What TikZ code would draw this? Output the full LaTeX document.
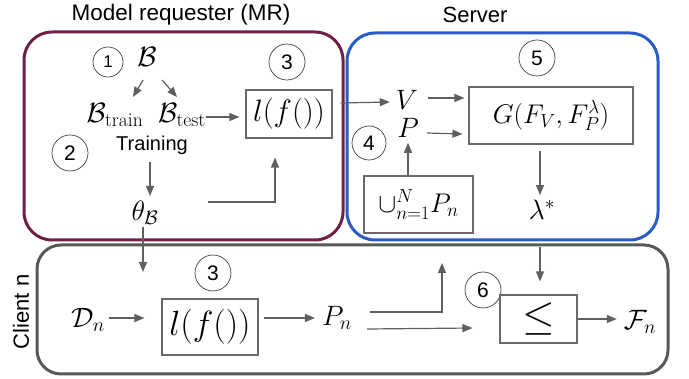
\RequirePackage{fix-cm}
\documentclass[tikz,border=0pt]{standalone}
\usepackage{fontspec}
\newfontfamily\arial{Liberation Sans}
\usetikzlibrary{arrows.meta,calc}
\definecolor{mrcol}{RGB}{110,32,70}
\definecolor{srvcol}{RGB}{42,92,200}
\definecolor{clcol}{RGB}{88,88,88}
\definecolor{arrcol}{RGB}{95,95,95}
\definecolor{boxcol}{RGB}{105,105,105}
\tikzset{
  title/.style={font=\arial\fontsize{22.5}{24}\selectfont},
  group/.style={line width=3pt, rounded corners=28pt},
  fbox/.style={draw=boxcol, line width=1.1pt, inner sep=0pt},
  num/.style={circle, draw=black!75, line width=0.7pt, inner sep=0pt, minimum size=36pt, font=\arial\fontsize{21}{23}\selectfont},
  smallnum/.style={num, minimum size=30pt, font=\arial\fontsize{17}{19}\selectfont},
  mth/.style={inner sep=0pt, font=\fontsize{28}{30}\selectfont},
  arr/.style={draw=arrcol, line width=1.2pt, -{Triangle[length=10pt,width=8pt]}},
}
\begin{document}
\begin{tikzpicture}[x=1pt,y=-1pt]
\useasboundingbox (0,0) rectangle (689,379);
% group boxes
\draw[group, draw=mrcol] (24,32) rectangle (343,240);
\draw[group, draw=srvcol] (347,33) rectangle (658,240);
\draw[group, draw=clcol, rounded corners=24pt] (37,245) rectangle (668,374);
% titles
\node[title] (tmr) at (181,15) {Model requester (MR)};
\node[title, font=\arial\fontsize{22}{24}\selectfont] (tsrv) at (475,15) {Server};
\node[title, rotate=90, font=\arial\fontsize{22}{24}\selectfont] (tcl) at (21,312) {Client n};
% model requester
\node[smallnum] (c1) at (108,62) {1};
\node[mth] (B) at (147,57) {$\mathcal{B}$};
\node[mth] (Btrain) at (115,115) {$\mathcal{B}_{\mathrm{train}}$};
\node[mth] (Btest) at (182,115) {$\mathcal{B}_{\mathrm{test}}$};
\node[fbox, minimum width=86pt, minimum height=48pt, font=\fontsize{31}{33}\selectfont] (lf1) at (289,114) {$l(f())$};
\node[num] (c3a) at (287,62) {3};
\node[num] (c2) at (70,153) {2};
\node[title, font=\arial\fontsize{20}{22}\selectfont] (train) at (152,145) {Training};
\node[mth] (theta) at (145,213) {$\theta_{\mathcal{B}}$};
\coordinate (thR) at (208,202);
\coordinate (thC) at (275,202);
\coordinate (thD) at (143,272);
% server
\node[mth] (V) at (407,100) {$V$};
\node[mth] (P) at (408,128) {$P$};
\node[fbox, minimum width=164pt, minimum height=57pt, font=\fontsize{27}{29}\selectfont] (G) at (551,115.5) {$G(F_V,F_P^{\lambda})$};
\node[num] (c5) at (537,58) {5};
\node[num, minimum size=34pt] (c4) at (369,143) {4};
\node[fbox, minimum width=109pt, minimum height=57pt, font=\fontsize{27}{29}\selectfont] (U) at (418.5,204.5) {$\cup_{n=1}^{N}P_n$};
\node[mth] (lam) at (542,210) {$\lambda^{*}$};
% client
\node[mth] (D) at (88,320) {$\mathcal{D}_n$};
\node[fbox, minimum width=96pt, minimum height=56pt, font=\fontsize{35}{37}\selectfont] (lf2) at (210,327) {$l(f())$};
\node[num] (c3b) at (213,273) {3};
\node[mth] (Pn) at (337,318) {$P_n$};
\node[num] (c6) at (483,290) {6};
\node[fbox, minimum width=77pt, minimum height=48pt, font=\fontsize{42}{44}\selectfont] (le) at (538.5,319) {$\leq$};
\node[mth] (Fn) at (640,322) {$\mathcal{F}_n$};
\coordinate (PnUp) at (442,263);
\coordinate (srvB) at (540,247);
% arrows MR
\draw[arr] ($(B)+(-4,23)$) -- ($(B)+(-14,40)$);
\draw[arr] ($(B)+(15,23)$) -- ($(B)+(30,40)$);
\draw[arr, shorten >=6pt] ($(Btest.east)+(0,2)$) -- ($(lf1.west)+(0,3)$);
\draw[arr] ($(train.south)+(-2,4)$) -- ($(theta.north)+(5,-5)$);
\draw[arr] (thR) -- (thC) -- ($(lf1.south -| thC)+(0,19)$);
\draw[arr] ($(theta.south)+(-2,2)$) -- (thD);
% arrows server
\draw[arr] ($(lf1.east)+(8,-11)$) -- ($(V.west)+(-6,2)$);
\draw[arr] ($(V.east)+(10,-2)$) -- ($(G.west)+(-4,-17.5)$);
\draw[arr] ($(P.east)+(8,5)$) -- ($(G.west)+(-6,18.5)$);
\draw[arr] (U.north -| P) -- ($(P.south)+(0,5)$);
\draw[arr] ($(G.south)+(-11,6)$) -- ($(lam.north)+(-2,-5)$);
% arrows client
\draw[arr] (srvB) -- ($(le.north)+(1.5,-13)$);
\draw[arr] ($(D.east)+(4,-2)$) -- ($(lf2.west)+(-17,-9)$);
\draw[arr] ($(lf2.east)+(5,-9)$) -- ($(Pn.west)+(-7,0)$);
\draw[arr] ($(Pn.east)+(18,-6)$) -| (PnUp);
\draw[arr] ($(Pn.east)+(15,11)$) -- ($(le.west)+(-27,9)$);
\draw[arr] (le.east) -- ($(Fn.west)+(-7,-3)$);
\end{tikzpicture}
\end{document}
